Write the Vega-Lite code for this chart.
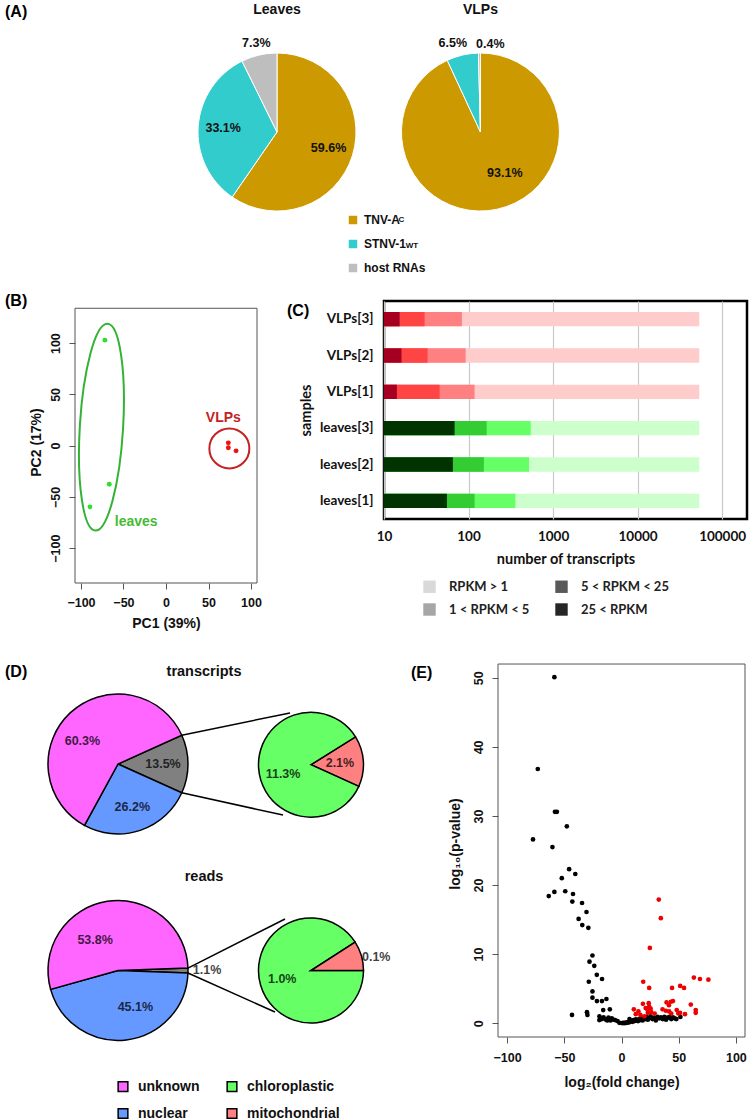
{
"$schema": "https://vega.github.io/schema/vega-lite/v6.json",
"padding": {"left": 5, "top": 0, "right": 0, "bottom": 0},
"spacing": 19,
"resolve": {"scale": {"color": "independent", "theta": "independent"}, "legend": {"color": "independent"}},
"config": {"view": {"stroke": null}, "font": "Liberation Sans", "title": {"font": "Liberation Sans", "fontWeight": "bold", "fontSize": 16, "color": "#000"}},
"datasets": {
"pieA": [
{"sample":"Leaves","cat":"TNV-A","frac":0.596,"k":1},
{"sample":"Leaves","cat":"STNV-1","frac":0.331,"k":2},
{"sample":"Leaves","cat":"host RNAs","frac":0.073,"k":3},
{"sample":"VLPs","cat":"TNV-A","frac":0.931,"k":1},
{"sample":"VLPs","cat":"STNV-1","frac":0.065,"k":2},
{"sample":"VLPs","cat":"host RNAs","frac":0.004,"k":3}],
"pca": [
{"pc1":-71.8,"pc2":102.9,"grp":"leaves"},{"pc1":-66.7,"pc2":-37.6,"grp":"leaves"},{"pc1":-89.4,"pc2":-59.7,"grp":"leaves"},
{"pc1":73.3,"pc2":2.7,"grp":"VLPs"},{"pc1":73.3,"pc2":-2.1,"grp":"VLPs"},{"pc1":82.4,"pc2":-5.1,"grp":"VLPs"}],
"rpkm": [
{"sample":"VLPs[3]","key":"VLPs:>1","n":53700},{"sample":"VLPs[3]","key":"VLPs:1-5","n":83.5},{"sample":"VLPs[3]","key":"VLPs:5-25","n":30.2},{"sample":"VLPs[3]","key":"VLPs:>25","n":15.3},
{"sample":"VLPs[2]","key":"VLPs:>1","n":53700},{"sample":"VLPs[2]","key":"VLPs:1-5","n":92.4},{"sample":"VLPs[2]","key":"VLPs:5-25","n":32.8},{"sample":"VLPs[2]","key":"VLPs:>25","n":16.1},
{"sample":"VLPs[1]","key":"VLPs:>1","n":53700},{"sample":"VLPs[1]","key":"VLPs:1-5","n":118},{"sample":"VLPs[1]","key":"VLPs:5-25","n":45.5},{"sample":"VLPs[1]","key":"VLPs:>25","n":14.2},
{"sample":"leaves[3]","key":"leaves:>1","n":53700},{"sample":"leaves[3]","key":"leaves:1-5","n":544},{"sample":"leaves[3]","key":"leaves:5-25","n":164},{"sample":"leaves[3]","key":"leaves:>25","n":68.4},
{"sample":"leaves[2]","key":"leaves:>1","n":53700},{"sample":"leaves[2]","key":"leaves:1-5","n":520},{"sample":"leaves[2]","key":"leaves:5-25","n":152},{"sample":"leaves[2]","key":"leaves:>25","n":65.3},
{"sample":"leaves[1]","key":"leaves:>1","n":53700},{"sample":"leaves[1]","key":"leaves:1-5","n":358},{"sample":"leaves[1]","key":"leaves:5-25","n":118},{"sample":"leaves[1]","key":"leaves:>25","n":55.5}],
"rpkmLevels": [{"level":"RPKM > 1"},{"level":"1 < RPKM < 5"},{"level":"5 < RPKM < 25"},{"level":"25 < RPKM"}],
"pieD": [
{"chart":"transcripts","pie":"main","cat":"other","frac":0.135,"k":1},
{"chart":"transcripts","pie":"main","cat":"nuclear","frac":0.262,"k":2},
{"chart":"transcripts","pie":"main","cat":"unknown","frac":0.603,"k":3},
{"chart":"transcripts","pie":"sub","cat":"mitochondrial","frac":0.021,"k":1},
{"chart":"transcripts","pie":"sub","cat":"chloroplastic","frac":0.113,"k":2},
{"chart":"reads","pie":"main","cat":"other","frac":0.011,"k":1},
{"chart":"reads","pie":"main","cat":"nuclear","frac":0.451,"k":2},
{"chart":"reads","pie":"main","cat":"unknown","frac":0.538,"k":3},
{"chart":"reads","pie":"sub","cat":"chloroplastic","frac":0.010,"k":1},
{"chart":"reads","pie":"sub","cat":"mitochondrial","frac":0.001,"k":2}],
"volcano": [
{"lfc":-58.7,"lp":50.1,"sig":"n"},{"lfc":-73.2,"lp":36.8,"sig":"n"},{"lfc":-58.2,"lp":30.6,"sig":"n"},{"lfc":-56.5,"lp":30.6,"sig":"n"},{"lfc":-47.8,"lp":28.5,"sig":"n"},{"lfc":-77.4,"lp":26.6,"sig":"n"},{"lfc":-60.4,"lp":25.5,"sig":"n"},{"lfc":-45.8,"lp":22.3,"sig":"n"},{"lfc":-40.4,"lp":21.6,"sig":"n"},{"lfc":-52.2,"lp":21.0,"sig":"n"},{"lfc":-63.6,"lp":18.4,"sig":"n"},{"lfc":-58.7,"lp":19.0,"sig":"n"},{"lfc":-49.2,"lp":19.1,"sig":"n"},{"lfc":-42.4,"lp":18.7,"sig":"n"},{"lfc":-43.0,"lp":17.6,"sig":"n"},{"lfc":-34.5,"lp":17.4,"sig":"n"},{"lfc":-30.6,"lp":16.1,"sig":"n"},{"lfc":-37.5,"lp":15.1,"sig":"n"},{"lfc":-34.3,"lp":14.2,"sig":"n"},{"lfc":-29.0,"lp":13.8,"sig":"n"},{"lfc":-25.4,"lp":9.8,"sig":"n"},{"lfc":-28.0,"lp":8.9,"sig":"n"},{"lfc":-23.8,"lp":8.3,"sig":"n"},{"lfc":-21.6,"lp":7.0,"sig":"n"},{"lfc":-17.0,"lp":6.4,"sig":"n"},{"lfc":-28.6,"lp":6.0,"sig":"n"},{"lfc":-25.4,"lp":4.6,"sig":"n"},{"lfc":-25.4,"lp":3.7,"sig":"n"},{"lfc":-21.5,"lp":3.2,"sig":"n"},{"lfc":-17.1,"lp":3.2,"sig":"n"},{"lfc":-13.2,"lp":3.5,"sig":"n"},{"lfc":-16.0,"lp":1.9,"sig":"n"},{"lfc":-10.2,"lp":2.0,"sig":"n"},{"lfc":-30.2,"lp":1.6,"sig":"n"},{"lfc":-29.8,"lp":1.2,"sig":"n"},{"lfc":-43.3,"lp":1.2,"sig":"n"},{"lfc":-19.3,"lp":1.0,"sig":"n"},{"lfc":-19.4,"lp":0.45,"sig":"n"},{"lfc":-15.7,"lp":0.85,"sig":"n"},{"lfc":-11.4,"lp":0.8,"sig":"n"},{"lfc":-8.5,"lp":0.7,"sig":"n"},{"lfc":-5.6,"lp":0.45,"sig":"n"},{"lfc":-1.8,"lp":0.05,"sig":"n"},{"lfc":-12.5,"lp":0.4,"sig":"n"},{"lfc":-9.6,"lp":0.4,"sig":"n"},{"lfc":-17.3,"lp":0.6,"sig":"n"},{"lfc":-14.0,"lp":0.55,"sig":"n"},{"lfc":-6.8,"lp":0.5,"sig":"n"},{"lfc":-3.5,"lp":0.3,"sig":"n"},
{"lfc":0.5,"lp":0.02,"sig":"n"},{"lfc":1.5,"lp":0.05,"sig":"n"},{"lfc":2.5,"lp":0.0,"sig":"n"},{"lfc":3.5,"lp":0.08,"sig":"n"},{"lfc":4.5,"lp":0.05,"sig":"n"},{"lfc":5.5,"lp":0.15,"sig":"n"},{"lfc":6.5,"lp":0.1,"sig":"n"},{"lfc":7.5,"lp":0.25,"sig":"n"},{"lfc":7.0,"lp":0.6,"sig":"n"},{"lfc":8.5,"lp":0.35,"sig":"n"},{"lfc":9.5,"lp":0.2,"sig":"n"},{"lfc":10.5,"lp":0.45,"sig":"n"},{"lfc":11.5,"lp":0.3,"sig":"n"},{"lfc":12.5,"lp":0.55,"sig":"n"},{"lfc":13.5,"lp":0.4,"sig":"n"},{"lfc":14.5,"lp":0.3,"sig":"n"},{"lfc":15.5,"lp":0.6,"sig":"n"},{"lfc":16.5,"lp":0.45,"sig":"n"},{"lfc":17.5,"lp":0.7,"sig":"n"},{"lfc":18.5,"lp":0.4,"sig":"n"},{"lfc":19.5,"lp":0.8,"sig":"n"},{"lfc":20.5,"lp":0.6,"sig":"n"},{"lfc":22.0,"lp":0.9,"sig":"n"},{"lfc":23.0,"lp":0.5,"sig":"n"},{"lfc":24.5,"lp":0.75,"sig":"n"},{"lfc":25.5,"lp":1.0,"sig":"n"},{"lfc":27.0,"lp":0.6,"sig":"n"},{"lfc":28.5,"lp":0.8,"sig":"n"},{"lfc":30.0,"lp":0.4,"sig":"n"},{"lfc":31.5,"lp":0.9,"sig":"n"},{"lfc":33.0,"lp":0.7,"sig":"n"},{"lfc":34.5,"lp":0.85,"sig":"n"},{"lfc":36.0,"lp":0.6,"sig":"n"},{"lfc":37.5,"lp":0.9,"sig":"n"},{"lfc":39.0,"lp":0.5,"sig":"n"},{"lfc":40.5,"lp":0.8,"sig":"n"},{"lfc":42.0,"lp":0.9,"sig":"n"},{"lfc":43.5,"lp":0.6,"sig":"n"},{"lfc":45.0,"lp":0.85,"sig":"n"},{"lfc":46.5,"lp":0.7,"sig":"n"},{"lfc":48.0,"lp":0.6,"sig":"n"},{"lfc":51.5,"lp":0.9,"sig":"n"},
{"lfc":32.6,"lp":17.9,"sig":"u"},{"lfc":34.4,"lp":15.2,"sig":"u"},{"lfc":24.8,"lp":10.9,"sig":"u"},{"lfc":63.3,"lp":6.6,"sig":"u"},{"lfc":68.6,"lp":6.4,"sig":"u"},{"lfc":76.0,"lp":6.3,"sig":"u"},{"lfc":19.0,"lp":6.0,"sig":"u"},{"lfc":24.2,"lp":5.1,"sig":"u"},{"lfc":44.2,"lp":5.1,"sig":"u"},{"lfc":51.3,"lp":5.4,"sig":"u"},{"lfc":54.7,"lp":5.1,"sig":"u"},{"lfc":18.7,"lp":2.8,"sig":"u"},{"lfc":23.8,"lp":2.9,"sig":"u"},{"lfc":24.2,"lp":2.4,"sig":"u"},{"lfc":22.5,"lp":2.0,"sig":"u"},{"lfc":25.5,"lp":2.1,"sig":"u"},{"lfc":21.1,"lp":2.2,"sig":"u"},{"lfc":39.4,"lp":3.0,"sig":"u"},{"lfc":43.2,"lp":3.1,"sig":"u"},{"lfc":41.5,"lp":2.6,"sig":"u"},{"lfc":45.0,"lp":3.2,"sig":"u"},{"lfc":60.6,"lp":2.7,"sig":"u"},{"lfc":64.9,"lp":1.9,"sig":"u"},{"lfc":64.9,"lp":1.5,"sig":"u"},{"lfc":10.8,"lp":2.0,"sig":"u"},{"lfc":14.8,"lp":1.7,"sig":"u"},{"lfc":12.5,"lp":1.3,"sig":"u"},{"lfc":35.9,"lp":2.0,"sig":"u"},{"lfc":38.8,"lp":1.8,"sig":"u"},{"lfc":41.7,"lp":1.7,"sig":"u"},{"lfc":43.5,"lp":1.4,"sig":"u"},{"lfc":48.3,"lp":1.9,"sig":"u"},{"lfc":49.7,"lp":1.4,"sig":"u"},{"lfc":51.2,"lp":1.5,"sig":"u"},{"lfc":55.5,"lp":1.3,"sig":"u"},{"lfc":16.5,"lp":1.2,"sig":"u"},{"lfc":26.0,"lp":1.6,"sig":"u"},{"lfc":29.0,"lp":1.4,"sig":"u"},{"lfc":23.0,"lp":1.5,"sig":"u"},{"lfc":20.0,"lp":1.0,"sig":"u"}]
},
"vconcat": [
{
"width": 672, "height": 222,
"layer": [
{"data": {"name": "pieA"}, "transform": [{"filter": "datum.sample === 'Leaves'"}],
 "layer": [
 {"mark": {"type": "arc", "outerRadius": 79, "stroke": "#fff", "strokeWidth": 1},
  "encoding": {
   "theta": {"field": "frac", "type": "quantitative", "stack": true},
   "order": {"field": "k", "type": "quantitative"},
   "color": {"field": "cat", "type": "nominal", "scale": {"domain": ["TNV-A","STNV-1","host RNAs"], "range": ["#CC9900","#33CCCC","#BEBEBE"]},
     "legend": {"title": null, "orient": "none", "legendX": 272, "legendY": 214, "direction": "vertical", "symbolType": "square", "symbolSize": 72, "symbolStrokeWidth": 0, "labelFont": "Liberation Sans", "labelFontSize": 12, "labelFontWeight": "bold", "labelColor": "#111", "labelOffset": 5, "rowPadding": 12, "padding": 0}},
   "x": {"datum": 0, "type": "quantitative", "scale": {"domain": [-2.557, 5.949], "nice": false, "zero": false}, "axis": null},
   "y": {"datum": 0, "type": "quantitative", "scale": {"domain": [-1.671, 1.139], "nice": false, "zero": false, "reverse": true}, "axis": null}}},
 {"mark": {"type": "text", "radius": 54, "fontSize": 12.5, "fontWeight": "bold", "color": "#111"},
  "encoding": {
   "theta": {"field": "frac", "type": "quantitative", "stack": true},
   "order": {"field": "k", "type": "quantitative"},
   "text": {"condition": {"test": "datum.k < 3", "field": "frac", "type": "quantitative", "format": ".1%"}, "value": ""},
   "x": {"datum": 0, "type": "quantitative", "scale": {"domain": [-2.557, 5.949], "nice": false, "zero": false}, "axis": null},
   "y": {"datum": 0, "type": "quantitative", "scale": {"domain": [-1.671, 1.139], "nice": false, "zero": false, "reverse": true}, "axis": null}}},
 {"mark": {"type": "text", "radius": 91, "fontSize": 12.5, "fontWeight": "bold", "color": "#111"},
  "encoding": {
   "theta": {"field": "frac", "type": "quantitative", "stack": true},
   "order": {"field": "k", "type": "quantitative"},
   "text": {"condition": {"test": "datum.k === 3", "field": "frac", "type": "quantitative", "format": ".1%"}, "value": ""},
   "x": {"datum": 0, "type": "quantitative", "scale": {"domain": [-2.557, 5.949], "nice": false, "zero": false}, "axis": null},
   "y": {"datum": 0, "type": "quantitative", "scale": {"domain": [-1.671, 1.139], "nice": false, "zero": false, "reverse": true}, "axis": null}}}
 ]},
{"data": {"name": "pieA"}, "transform": [{"filter": "datum.sample === 'VLPs'"}],
 "layer": [
 {"mark": {"type": "arc", "outerRadius": 79, "stroke": "#fff", "strokeWidth": 1},
  "encoding": {
   "theta": {"field": "frac", "type": "quantitative", "stack": true},
   "order": {"field": "k", "type": "quantitative"},
   "color": {"field": "cat", "type": "nominal", "scale": {"domain": ["TNV-A","STNV-1","host RNAs"], "range": ["#CC9900","#33CCCC","#BEBEBE"]}},
   "x": {"datum": 2.575, "type": "quantitative", "scale": {"domain": [-2.557, 5.949], "nice": false, "zero": false}, "axis": null},
   "y": {"datum": 0, "type": "quantitative", "scale": {"domain": [-1.671, 1.139], "nice": false, "zero": false, "reverse": true}, "axis": null}}},
 {"mark": {"type": "text", "radius": 48, "dx": 14, "dy": -6, "fontSize": 12.5, "fontWeight": "bold", "color": "#111"},
  "encoding": {
   "theta": {"field": "frac", "type": "quantitative", "stack": true},
   "order": {"field": "k", "type": "quantitative"},
   "text": {"condition": {"test": "datum.k === 1", "field": "frac", "type": "quantitative", "format": ".1%"}, "value": ""},
   "x": {"datum": 2.575, "type": "quantitative", "scale": {"domain": [-2.557, 5.949], "nice": false, "zero": false}, "axis": null},
   "y": {"datum": 0, "type": "quantitative", "scale": {"domain": [-1.671, 1.139], "nice": false, "zero": false, "reverse": true}, "axis": null}}},
 {"mark": {"type": "text", "radius": 91, "dx": -7, "fontSize": 12.5, "fontWeight": "bold", "color": "#111"},
  "encoding": {
   "theta": {"field": "frac", "type": "quantitative", "stack": true},
   "order": {"field": "k", "type": "quantitative"},
   "text": {"condition": {"test": "datum.k === 2", "field": "frac", "type": "quantitative", "format": ".1%"}, "value": ""},
   "x": {"datum": 2.575, "type": "quantitative", "scale": {"domain": [-2.557, 5.949], "nice": false, "zero": false}, "axis": null},
   "y": {"datum": 0, "type": "quantitative", "scale": {"domain": [-1.671, 1.139], "nice": false, "zero": false, "reverse": true}, "axis": null}}},
 {"mark": {"type": "text", "radius": 91, "dx": 11, "dy": 3, "fontSize": 12.5, "fontWeight": "bold", "color": "#111"},
  "encoding": {
   "theta": {"field": "frac", "type": "quantitative", "stack": true},
   "order": {"field": "k", "type": "quantitative"},
   "text": {"condition": {"test": "datum.k === 3", "field": "frac", "type": "quantitative", "format": ".1%"}, "value": ""},
   "x": {"datum": 2.575, "type": "quantitative", "scale": {"domain": [-2.557, 5.949], "nice": false, "zero": false}, "axis": null},
   "y": {"datum": 0, "type": "quantitative", "scale": {"domain": [-1.671, 1.139], "nice": false, "zero": false, "reverse": true}, "axis": null}}}
 ]},
{"data": {"values": [{}]}, "mark": {"type": "text", "text": "Leaves", "fontSize": 14, "fontWeight": "bold", "color": "#111"},
 "encoding": {"x": {"datum": 0, "type": "quantitative", "scale": {"domain": [-2.557, 5.949], "nice": false, "zero": false}, "axis": null},
   "y": {"datum": -1.544, "type": "quantitative", "scale": {"domain": [-1.671, 1.139], "nice": false, "zero": false, "reverse": true}, "axis": null}}},
{"data": {"values": [{}]}, "mark": {"type": "text", "text": "VLPs", "fontSize": 14, "fontWeight": "bold", "color": "#111"},
 "encoding": {"x": {"datum": 2.575, "type": "quantitative", "scale": {"domain": [-2.557, 5.949], "nice": false, "zero": false}, "axis": null},
   "y": {"datum": -1.544, "type": "quantitative", "scale": {"domain": [-1.671, 1.139], "nice": false, "zero": false, "reverse": true}, "axis": null}}},
{"data": {"values": [{}]}, "mark": {"type": "text", "text": "(A)", "align": "left", "fontSize": 16, "fontWeight": "bold", "color": "#000"},
 "encoding": {"x": {"datum": -3.443, "type": "quantitative", "scale": {"domain": [-2.557, 5.949], "nice": false, "zero": false}, "axis": null},
   "y": {"datum": -1.513, "type": "quantitative", "scale": {"domain": [-1.671, 1.139], "nice": false, "zero": false, "reverse": true}, "axis": null}}},
{"data": {"values": [{}]}, "mark": {"type": "text", "text": "C", "align": "left", "fontSize": 8, "fontWeight": "bold", "color": "#111"},
 "encoding": {"x": {"datum": 1.538, "type": "quantitative", "scale": {"domain": [-2.557, 5.949], "nice": false, "zero": false}, "axis": null},
   "y": {"datum": 1.110, "type": "quantitative", "scale": {"domain": [-1.671, 1.139], "nice": false, "zero": false, "reverse": true}, "axis": null}}},
{"data": {"values": [{}]}, "mark": {"type": "text", "text": "WT", "align": "left", "fontSize": 8, "fontWeight": "bold", "color": "#111"},
 "encoding": {"x": {"datum": 1.629, "type": "quantitative", "scale": {"domain": [-2.557, 5.949], "nice": false, "zero": false}, "axis": null},
   "y": {"datum": 1.449, "type": "quantitative", "scale": {"domain": [-1.671, 1.139], "nice": false, "zero": false, "reverse": true}, "axis": null}}}
],
"resolve": {"scale": {"theta": "independent"}}
},
{
"hconcat": [
 {"width": 182, "height": 282,
  "title": {"text": "(B)", "anchor": "start", "frame": "group", "dx": -70, "dy": 16, "offset": 0, "baseline": "middle", "fontSize": 16},
  "layer": [
   {"data": {"values": [{}]}, "mark": {"type": "rect", "filled": false, "stroke": "#555", "strokeWidth": 1},
    "encoding": {"x": {"datum": -107, "type": "quantitative", "scale": {"domain": [-107, 107], "nice": false, "zero": false}},
                 "y": {"datum": -134, "type": "quantitative", "scale": {"domain": [-134, 141.1], "nice": false, "zero": false}},
                 "x2": {"datum": 107}, "y2": {"datum": 134}}},
   {"data": {"values": [{}]}, "mark": {"type": "point", "shape": "M -0.209 0 A 0.209 1 0 1 1 0.209 0 A 0.209 1 0 1 1 -0.209 0 Z", "size": 42932, "angle": 3.4, "filled": false, "stroke": "#33B233", "strokeWidth": 2, "opacity": 1},
    "encoding": {"x": {"datum": -75.9, "type": "quantitative", "scale": {"domain": [-107, 107], "nice": false, "zero": false}},
                 "y": {"datum": 18.0, "type": "quantitative", "scale": {"domain": [-134, 141.1], "nice": false, "zero": false}}}},
   {"data": {"values": [{}]}, "mark": {"type": "point", "shape": "circle", "size": 1600, "filled": false, "stroke": "#C42222", "strokeWidth": 2, "opacity": 1},
    "encoding": {"x": {"datum": 74.5, "type": "quantitative", "scale": {"domain": [-107, 107], "nice": false, "zero": false}},
                 "y": {"datum": -2.7, "type": "quantitative", "scale": {"domain": [-134, 141.1], "nice": false, "zero": false}}}},
   {"data": {"name": "pca"}, "mark": {"type": "circle", "size": 24, "opacity": 1},
    "encoding": {
     "x": {"field": "pc1", "type": "quantitative", "scale": {"domain": [-107, 107], "nice": false, "zero": false},
       "axis": {"title": "PC1 (39%)", "values": [-100,-50,0,50,100], "domain": false, "grid": false, "ticks": true, "tickSize": 6, "tickColor": "#555", "labelFontSize": 12.5, "labelFontWeight": "bold", "labelColor": "#111", "labelPadding": 7, "labelFlush": false, "labelOverlap": false, "titleFontSize": 14, "titleFontWeight": "bold", "titleColor": "#111", "titlePadding": 8}},
     "y": {"field": "pc2", "type": "quantitative", "scale": {"domain": [-134, 141.1], "nice": false, "zero": false},
       "axis": {"title": "PC2 (17%)", "values": [-100,-50,0,50,100], "labelAngle": -90, "labelAlign": "center", "labelBaseline": "bottom", "domain": false, "grid": false, "ticks": true, "tickSize": 6, "tickColor": "#555", "labelFontSize": 12.5, "labelFontWeight": "bold", "labelColor": "#111", "labelPadding": 7, "labelFlush": false, "labelOverlap": false, "titleFontSize": 14, "titleFontWeight": "bold", "titleColor": "#111", "titlePadding": 6}},
     "color": {"field": "grp", "type": "nominal", "scale": {"domain": ["leaves","VLPs"], "range": ["#2EE02E","#EE1111"]}, "legend": null}}},
   {"data": {"values": [{}]}, "mark": {"type": "text", "text": "VLPs", "fontSize": 14, "fontWeight": "bold", "color": "#C42222"},
    "encoding": {"x": {"datum": 67.4, "type": "quantitative", "scale": {"domain": [-107, 107], "nice": false, "zero": false}},
                 "y": {"datum": 27.3, "type": "quantitative", "scale": {"domain": [-134, 141.1], "nice": false, "zero": false}}}},
   {"data": {"values": [{}]}, "mark": {"type": "text", "text": "leaves", "fontSize": 14, "fontWeight": "bold", "color": "#44BB33"},
    "encoding": {"x": {"datum": -35.1, "type": "quantitative", "scale": {"domain": [-107, 107], "nice": false, "zero": false}},
                 "y": {"datum": -74.6, "type": "quantitative", "scale": {"domain": [-134, 141.1], "nice": false, "zero": false}}}}
  ]},
{"width": 363, "height": 218,
 "view": {"stroke": "#000", "strokeWidth": 2.5},
 "title": {"text": "(C)", "anchor": "start", "frame": "group", "dx": -97, "dy": 26, "offset": 0, "baseline": "middle", "fontSize": 16},
 "layer": [
  {"data": {"name": "rpkm"}, "mark": {"type": "bar"},
   "encoding": {
    "y": {"field": "sample", "type": "nominal", "sort": ["VLPs[3]","VLPs[2]","VLPs[1]","leaves[3]","leaves[2]","leaves[1]"], "scale": {"paddingInner": 0.606, "paddingOuter": 0.303},
      "axis": {"title": "samples", "ticks": false, "tickSize": 0, "domain": false, "labelFont": "Lato", "labelFontSize": 13.5, "labelFontWeight": "bold", "labelColor": "#111", "labelPadding": 11, "titleFont": "Lato", "titleFontSize": 14.5, "titleFontWeight": "bold", "titleColor": "#111", "titlePadding": 6}},
    "x": {"field": "n", "type": "quantitative", "scale": {"type": "log", "domain": [10, 197000], "nice": false},
      "axis": {"title": "number of transcripts", "values": [10,100,1000,10000,100000], "format": "d", "grid": true, "gridColor": "#C8C8C8", "gridWidth": 1.2, "ticks": false, "tickSize": 0, "domain": false, "labelFont": "Lato", "labelFontSize": 13.5, "labelFontWeight": "bold", "labelColor": "#111", "labelPadding": 10, "labelFlush": false, "labelOverlap": false, "titleFont": "Lato", "titleFontSize": 14.5, "titleFontWeight": "bold", "titleColor": "#111", "titlePadding": 10}},
    "x2": {"datum": 10},
    "color": {"field": "key", "type": "nominal", "scale": {"domain": ["VLPs:>1","VLPs:1-5","VLPs:5-25","VLPs:>25","leaves:>1","leaves:1-5","leaves:5-25","leaves:>25"], "range": ["#FFCCCC","#FF8080","#FF4444","#A50021","#CCFFCC","#66FF66","#33CC33","#003300"]}, "legend": null}}},
  {"data": {"name": "rpkmLevels"}, "mark": {"type": "square", "opacity": 0},
   "encoding": {"color": {"field": "level", "type": "nominal", "scale": {"domain": ["RPKM > 1","1 < RPKM < 5","5 < RPKM < 25","25 < RPKM"], "range": ["#D9D9D9","#A6A6A6","#595959","#262626"]},
     "legend": {"title": null, "orient": "none", "legendX": 39, "legendY": 279, "columns": 2, "symbolType": "square", "symbolSize": 154, "symbolStrokeWidth": 0, "symbolOpacity": 1, "labelFont": "Lato", "labelFontSize": 13, "labelFontWeight": "bold", "labelColor": "#222", "labelOffset": 13, "columnPadding": 25, "rowPadding": 9, "padding": 0}}}}
 ],
 "resolve": {"scale": {"color": "independent"}, "legend": {"color": "independent"}}}
], "spacing": 127, "bounds": "flush",
"resolve": {"scale": {"color": "independent"}, "legend": {"color": "independent"}}
},
{
"hconcat": [
{"width": 373, "height": 472,
 "layer": [
  {"data": {"values": [{}]}, "mark": {"type": "rule", "color": "#000", "strokeWidth": 1.5},
   "encoding": {"x": {"datum": 0.911, "type": "quantitative", "scale": {"domain": [-0.6143, 4.7143], "nice": false, "zero": false}, "axis": null},
                "y": {"datum": -0.412, "type": "quantitative", "scale": {"domain": [-1.6286, 5.1143], "nice": false, "zero": false, "reverse": true}, "axis": null},
                "x2": {"datum": 2.457}, "y2": {"datum": -0.729}}},
  {"data": {"values": [{}]}, "mark": {"type": "rule", "color": "#000", "strokeWidth": 1.5},
   "encoding": {"x": {"datum": 0.911, "type": "quantitative", "scale": {"domain": [-0.6143, 4.7143], "nice": false, "zero": false}, "axis": null},
                "y": {"datum": 0.412, "type": "quantitative", "scale": {"domain": [-1.6286, 5.1143], "nice": false, "zero": false, "reverse": true}, "axis": null},
                "x2": {"datum": 2.357}, "y2": {"datum": 0.729}}},
  {"data": {"values": [{}]}, "mark": {"type": "rule", "color": "#000", "strokeWidth": 1.5},
   "encoding": {"x": {"datum": 0.9994, "type": "quantitative", "scale": {"domain": [-0.6143, 4.7143], "nice": false, "zero": false}, "axis": null},
                "y": {"datum": 2.915, "type": "quantitative", "scale": {"domain": [-1.6286, 5.1143], "nice": false, "zero": false, "reverse": true}, "axis": null},
                "x2": {"datum": 2.386}, "y2": {"datum": 2.214}}},
  {"data": {"values": [{}]}, "mark": {"type": "rule", "color": "#000", "strokeWidth": 1.5},
   "encoding": {"x": {"datum": 0.9994, "type": "quantitative", "scale": {"domain": [-0.6143, 4.7143], "nice": false, "zero": false}, "axis": null},
                "y": {"datum": 2.985, "type": "quantitative", "scale": {"domain": [-1.6286, 5.1143], "nice": false, "zero": false, "reverse": true}, "axis": null},
                "x2": {"datum": 2.243}, "y2": {"datum": 3.543}}},
  {"data": {"name": "pieD"}, "transform": [{"filter": "datum.chart === 'transcripts' && datum.pie === 'main'"}],
   "layer": [
    {"mark": {"type": "arc", "outerRadius": 70, "stroke": "#000", "strokeWidth": 1.5},
     "encoding": {
      "theta": {"field": "frac", "type": "quantitative", "stack": true, "scale": {"range": [1.1467, 7.4299]}},
      "order": {"field": "k", "type": "quantitative"},
      "color": {"field": "cat", "type": "nominal", "scale": {"domain": ["unknown","nuclear","other","chloroplastic","mitochondrial"], "range": ["#FF66FF","#6699FF","#808080","#66FF66","#FF8080"]},
        "legend": {"values": ["unknown","nuclear","chloroplastic","mitochondrial"], "title": null, "orient": "none", "legendX": 41, "legendY": 429.5, "columns": 2, "symbolType": "square", "symbolSize": 94, "symbolStrokeColor": "#000", "symbolStrokeWidth": 1.5, "symbolOpacity": 1, "labelFont": "Liberation Sans", "labelFontSize": 14, "labelFontWeight": "bold", "labelColor": "#111", "labelOffset": 8, "columnPadding": 24, "rowPadding": 11, "padding": 0}},
      "x": {"datum": 0, "type": "quantitative", "scale": {"domain": [-0.6143, 4.7143], "nice": false, "zero": false}, "axis": null},
      "y": {"datum": 0, "type": "quantitative", "scale": {"domain": [-1.6286, 5.1143], "nice": false, "zero": false, "reverse": true}, "axis": null}}},
    {"mark": {"type": "text", "radius": 45, "fontSize": 12.5, "fontWeight": "bold", "color": "#000", "opacity": 0.75},
     "encoding": {
      "theta": {"field": "frac", "type": "quantitative", "stack": true, "scale": {"range": [1.1467, 7.4299]}},
      "order": {"field": "k", "type": "quantitative"},
      "text": {"condition": {"test": "datum.k < 3", "field": "frac", "type": "quantitative", "format": ".1%"}, "value": ""},
      "x": {"datum": 0, "type": "quantitative", "scale": {"domain": [-0.6143, 4.7143], "nice": false, "zero": false}, "axis": null},
      "y": {"datum": 0, "type": "quantitative", "scale": {"domain": [-1.6286, 5.1143], "nice": false, "zero": false, "reverse": true}, "axis": null}}},
    {"mark": {"type": "text", "radius": 45, "dx": -5, "dy": 10, "fontSize": 12.5, "fontWeight": "bold", "color": "#000", "opacity": 0.75},
     "encoding": {
      "theta": {"field": "frac", "type": "quantitative", "stack": true, "scale": {"range": [1.1467, 7.4299]}},
      "order": {"field": "k", "type": "quantitative"},
      "text": {"condition": {"test": "datum.k === 3", "field": "frac", "type": "quantitative", "format": ".1%"}, "value": ""},
      "x": {"datum": 0, "type": "quantitative", "scale": {"domain": [-0.6143, 4.7143], "nice": false, "zero": false}, "axis": null},
      "y": {"datum": 0, "type": "quantitative", "scale": {"domain": [-1.6286, 5.1143], "nice": false, "zero": false, "reverse": true}, "axis": null}}}
   ]},
  {"data": {"name": "pieD"}, "transform": [{"filter": "datum.chart === 'transcripts' && datum.pie === 'sub'"}],
   "layer": [
    {"mark": {"type": "arc", "outerRadius": 52.5, "stroke": "#000", "strokeWidth": 1.5},
     "encoding": {
      "theta": {"field": "frac", "type": "quantitative", "stack": true, "scale": {"range": [1.0123, 7.2955]}},
      "order": {"field": "k", "type": "quantitative"},
      "color": {"field": "cat", "type": "nominal", "scale": {"domain": ["unknown","nuclear","other","chloroplastic","mitochondrial"], "range": ["#FF66FF","#6699FF","#808080","#66FF66","#FF8080"]}},
      "x": {"datum": 2.757, "type": "quantitative", "scale": {"domain": [-0.6143, 4.7143], "nice": false, "zero": false}, "axis": null},
      "y": {"datum": 0.01, "type": "quantitative", "scale": {"domain": [-1.6286, 5.1143], "nice": false, "zero": false, "reverse": true}, "axis": null}}},
    {"mark": {"type": "text", "radius": 29, "fontSize": 12.5, "fontWeight": "bold", "color": "#000", "opacity": 0.75},
     "encoding": {
      "theta": {"field": "frac", "type": "quantitative", "stack": true, "scale": {"range": [1.0123, 7.2955]}},
      "order": {"field": "k", "type": "quantitative"},
      "text": {"condition": {"test": "datum.k === 1", "field": "frac", "type": "quantitative", "format": ".1%"}, "value": ""},
      "x": {"datum": 2.757, "type": "quantitative", "scale": {"domain": [-0.6143, 4.7143], "nice": false, "zero": false}, "axis": null},
      "y": {"datum": 0.01, "type": "quantitative", "scale": {"domain": [-1.6286, 5.1143], "nice": false, "zero": false, "reverse": true}, "axis": null}}},
    {"mark": {"type": "text", "radius": 28, "dy": 7, "fontSize": 12.5, "fontWeight": "bold", "color": "#000", "opacity": 0.75},
     "encoding": {
      "theta": {"field": "frac", "type": "quantitative", "stack": true, "scale": {"range": [1.0123, 7.2955]}},
      "order": {"field": "k", "type": "quantitative"},
      "text": {"condition": {"test": "datum.k === 2", "field": "frac", "type": "quantitative", "format": ".1%"}, "value": ""},
      "x": {"datum": 2.757, "type": "quantitative", "scale": {"domain": [-0.6143, 4.7143], "nice": false, "zero": false}, "axis": null},
      "y": {"datum": 0.01, "type": "quantitative", "scale": {"domain": [-1.6286, 5.1143], "nice": false, "zero": false, "reverse": true}, "axis": null}}}
   ]},
  {"data": {"name": "pieD"}, "transform": [{"filter": "datum.chart === 'reads' && datum.pie === 'main'"}],
   "layer": [
    {"mark": {"type": "arc", "outerRadius": 70, "stroke": "#000", "strokeWidth": 1.5},
     "encoding": {
      "theta": {"field": "frac", "type": "quantitative", "stack": true, "scale": {"range": [1.5362, 7.8194]}},
      "order": {"field": "k", "type": "quantitative"},
      "color": {"field": "cat", "type": "nominal", "scale": {"domain": ["unknown","nuclear","other","chloroplastic","mitochondrial"], "range": ["#FF66FF","#6699FF","#808080","#66FF66","#FF8080"]}},
      "x": {"datum": 0, "type": "quantitative", "scale": {"domain": [-0.6143, 4.7143], "nice": false, "zero": false}, "axis": null},
      "y": {"datum": 2.95, "type": "quantitative", "scale": {"domain": [-1.6286, 5.1143], "nice": false, "zero": false, "reverse": true}, "axis": null}}},
    {"mark": {"type": "text", "radius": 89, "fontSize": 12.5, "fontWeight": "bold", "color": "#000", "opacity": 0.75},
     "encoding": {
      "theta": {"field": "frac", "type": "quantitative", "stack": true, "scale": {"range": [1.5362, 7.8194]}},
      "order": {"field": "k", "type": "quantitative"},
      "text": {"condition": {"test": "datum.k === 1", "field": "frac", "type": "quantitative", "format": ".1%"}, "value": ""},
      "x": {"datum": 0, "type": "quantitative", "scale": {"domain": [-0.6143, 4.7143], "nice": false, "zero": false}, "axis": null},
      "y": {"datum": 2.95, "type": "quantitative", "scale": {"domain": [-1.6286, 5.1143], "nice": false, "zero": false, "reverse": true}, "axis": null}}},
    {"mark": {"type": "text", "radius": 45, "dx": 12, "dy": -8, "fontSize": 12.5, "fontWeight": "bold", "color": "#000", "opacity": 0.75},
     "encoding": {
      "theta": {"field": "frac", "type": "quantitative", "stack": true, "scale": {"range": [1.5362, 7.8194]}},
      "order": {"field": "k", "type": "quantitative"},
      "text": {"condition": {"test": "datum.k === 2", "field": "frac", "type": "quantitative", "format": ".1%"}, "value": ""},
      "x": {"datum": 0, "type": "quantitative", "scale": {"domain": [-0.6143, 4.7143], "nice": false, "zero": false}, "axis": null},
      "y": {"datum": 2.95, "type": "quantitative", "scale": {"domain": [-1.6286, 5.1143], "nice": false, "zero": false, "reverse": true}, "axis": null}}},
    {"mark": {"type": "text", "radius": 45, "dx": -16, "dy": 13.5, "fontSize": 12.5, "fontWeight": "bold", "color": "#000", "opacity": 0.75},
     "encoding": {
      "theta": {"field": "frac", "type": "quantitative", "stack": true, "scale": {"range": [1.5362, 7.8194]}},
      "order": {"field": "k", "type": "quantitative"},
      "text": {"condition": {"test": "datum.k === 3", "field": "frac", "type": "quantitative", "format": ".1%"}, "value": ""},
      "x": {"datum": 0, "type": "quantitative", "scale": {"domain": [-0.6143, 4.7143], "nice": false, "zero": false}, "axis": null},
      "y": {"datum": 2.95, "type": "quantitative", "scale": {"domain": [-1.6286, 5.1143], "nice": false, "zero": false, "reverse": true}, "axis": null}}}
   ]},
  {"data": {"name": "pieD"}, "transform": [{"filter": "datum.chart === 'reads' && datum.pie === 'sub'"}],
   "layer": [
    {"mark": {"type": "arc", "outerRadius": 52.5, "stroke": "#000", "strokeWidth": 1.5},
     "encoding": {
      "theta": {"field": "frac", "type": "quantitative", "stack": true, "scale": {"range": [1.5708, 7.854]}},
      "order": {"field": "k", "type": "quantitative"},
      "color": {"field": "cat", "type": "nominal", "scale": {"domain": ["unknown","nuclear","other","chloroplastic","mitochondrial"], "range": ["#FF66FF","#6699FF","#808080","#66FF66","#FF8080"]}},
      "x": {"datum": 2.757, "type": "quantitative", "scale": {"domain": [-0.6143, 4.7143], "nice": false, "zero": false}, "axis": null},
      "y": {"datum": 2.95, "type": "quantitative", "scale": {"domain": [-1.6286, 5.1143], "nice": false, "zero": false, "reverse": true}, "axis": null}}},
    {"mark": {"type": "text", "radius": 30, "fontSize": 12.5, "fontWeight": "bold", "color": "#000", "opacity": 0.75},
     "encoding": {
      "theta": {"field": "frac", "type": "quantitative", "stack": true, "scale": {"range": [1.5708, 7.854]}},
      "order": {"field": "k", "type": "quantitative"},
      "text": {"condition": {"test": "datum.k === 1", "field": "frac", "type": "quantitative", "format": ".1%"}, "value": ""},
      "x": {"datum": 2.757, "type": "quantitative", "scale": {"domain": [-0.6143, 4.7143], "nice": false, "zero": false}, "axis": null},
      "y": {"datum": 2.95, "type": "quantitative", "scale": {"domain": [-1.6286, 5.1143], "nice": false, "zero": false, "reverse": true}, "axis": null}}},
    {"mark": {"type": "text", "radius": 68, "dy": 6, "fontSize": 12.5, "fontWeight": "bold", "color": "#000", "opacity": 0.75},
     "encoding": {
      "theta": {"field": "frac", "type": "quantitative", "stack": true, "scale": {"range": [1.5708, 7.854]}},
      "order": {"field": "k", "type": "quantitative"},
      "text": {"condition": {"test": "datum.k === 2", "field": "frac", "type": "quantitative", "format": ".1%"}, "value": ""},
      "x": {"datum": 2.757, "type": "quantitative", "scale": {"domain": [-0.6143, 4.7143], "nice": false, "zero": false}, "axis": null},
      "y": {"datum": 2.95, "type": "quantitative", "scale": {"domain": [-1.6286, 5.1143], "nice": false, "zero": false, "reverse": true}, "axis": null}}}
   ]},
  {"data": {"values": [{}]}, "mark": {"type": "text", "text": "(D)", "align": "left", "fontSize": 16, "fontWeight": "bold", "color": "#000"},
   "encoding": {"x": {"datum": -1.614, "type": "quantitative", "scale": {"domain": [-0.6143, 4.7143], "nice": false, "zero": false}, "axis": null},
                "y": {"datum": -1.314, "type": "quantitative", "scale": {"domain": [-1.6286, 5.1143], "nice": false, "zero": false, "reverse": true}, "axis": null}}},
  {"data": {"values": [{}]}, "mark": {"type": "text", "text": "transcripts", "fontSize": 14.5, "fontWeight": "bold", "color": "#111"},
   "encoding": {"x": {"datum": 1.229, "type": "quantitative", "scale": {"domain": [-0.6143, 4.7143], "nice": false, "zero": false}, "axis": null},
                "y": {"datum": -1.314, "type": "quantitative", "scale": {"domain": [-1.6286, 5.1143], "nice": false, "zero": false, "reverse": true}, "axis": null}}},
  {"data": {"values": [{}]}, "mark": {"type": "text", "text": "reads", "fontSize": 14.5, "fontWeight": "bold", "color": "#111"},
   "encoding": {"x": {"datum": 1.229, "type": "quantitative", "scale": {"domain": [-0.6143, 4.7143], "nice": false, "zero": false}, "axis": null},
                "y": {"datum": 1.614, "type": "quantitative", "scale": {"domain": [-1.6286, 5.1143], "nice": false, "zero": false, "reverse": true}, "axis": null}}}
 ],
 "resolve": {"scale": {"theta": "independent"}}
},
{"width": 247, "height": 387,
 "title": {"text": "(E)", "anchor": "start", "frame": "group", "dx": -87, "dy": 39, "offset": 0, "baseline": "middle", "fontSize": 16},
 "layer": [
  {"data": {"values": [{}]}, "mark": {"type": "rect", "filled": false, "stroke": "#555", "strokeWidth": 1},
   "encoding": {"x": {"datum": -108, "type": "quantitative", "scale": {"domain": [-108, 108], "nice": false, "zero": false}},
                "y": {"datum": -2, "type": "quantitative", "scale": {"domain": [-2, 54.03], "nice": false, "zero": false}},
                "x2": {"datum": 108}, "y2": {"datum": 52}}},
  {"data": {"name": "volcano"}, "mark": {"type": "circle", "size": 22, "opacity": 1},
   "encoding": {
    "x": {"field": "lfc", "type": "quantitative", "scale": {"domain": [-108, 108], "nice": false, "zero": false},
      "axis": {"title": "log₂(fold change)", "values": [-100,-50,0,50,100], "domain": false, "grid": false, "ticks": true, "tickSize": 6, "tickColor": "#555", "labelFontSize": 12.5, "labelFontWeight": "bold", "labelColor": "#111", "labelPadding": 8, "labelFlush": false, "labelOverlap": false, "titleFontSize": 14, "titleFontWeight": "bold", "titleColor": "#111", "titlePadding": 12}},
    "y": {"field": "lp", "type": "quantitative", "scale": {"domain": [-2, 54.03], "nice": false, "zero": false},
      "axis": {"title": "log₁₀(p-value)", "values": [0,10,20,30,40,50], "labelAngle": -90, "labelAlign": "center", "labelBaseline": "bottom", "domain": false, "grid": false, "ticks": true, "tickSize": 6, "tickColor": "#555", "labelFontSize": 12.5, "labelFontWeight": "bold", "labelColor": "#111", "labelPadding": 7, "labelFlush": false, "labelOverlap": false, "titleFontSize": 14, "titleFontWeight": "bold", "titleColor": "#111", "titlePadding": 10}},
    "color": {"field": "sig", "type": "nominal", "scale": {"domain": ["n","u"], "range": ["#000000","#EE0000"]}, "legend": null}}}
 ]}
], "spacing": 50, "bounds": "flush",
"resolve": {"scale": {"color": "independent", "theta": "independent"}, "legend": {"color": "independent"}}
}
]
}
